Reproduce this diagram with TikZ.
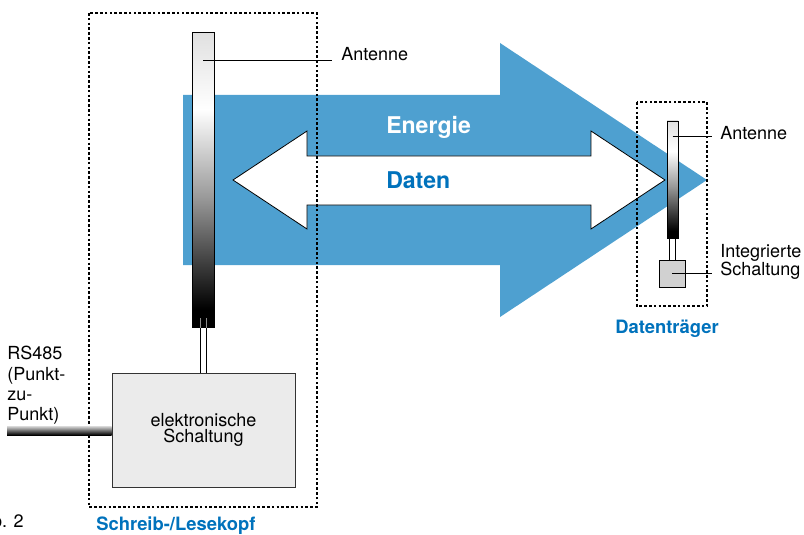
\documentclass[tikz,border=0pt]{standalone}
\usepackage{fontspec}
\setmainfont{TeX Gyre Heros}
\usepackage{xcolor}
\usepackage{tikz}
\usetikzlibrary{calc}
\definecolor{arrowblue}{RGB}{78,160,208}
\definecolor{textblue}{RGB}{0,114,188}
\pgfdeclareverticalshading{antgrad}{100bp}{color(0bp)=(black); color(28bp)=(black); color(36bp)=(black!75); color(47bp)=(black!40); color(62bp)=(white); color(75bp)=(black!12); color(100bp)=(black!12)}
\tikzset{
    dotbox/.style={line width=1.9pt, dash pattern=on 1.9pt off 1.7pt},
    antenna/.style={draw, line width=0.75pt, shade, shading=antgrad, rectangle, inner sep=0pt},
    circuit/.style={draw=black!80, line width=0.75pt, rectangle, inner sep=0pt},
    lbl/.style={font=\fontsize{13.5}{16}\selectfont, inner sep=0pt},
    blbl/.style={font=\fontsize{13.8}{17}\selectfont\bfseries, text=textblue, inner sep=0pt},
    biglbl/.style={font=\fontsize{17.3}{20}\selectfont\bfseries, inner sep=0pt},
    lead/.style={line width=0.75pt},
    wire/.style={line width=0.75pt}
}

\begin{document}
\begin{tikzpicture}[x=0.75pt,y=-0.75pt]
    \useasboundingbox (0,0) rectangle (804,535);
    \fill[arrowblue] (183,95) -- (500,95) -- (500,43) -- (707,180) -- (500,317) -- (500,265) -- (183,265) -- cycle;
    \draw[fill=white, line width=0.6pt] (233,180) -- (307,131) -- (307,156) -- (591,156) -- (591,131) -- (665,180) -- (591,229) -- (591,205) -- (307,205) -- (307,229) -- cycle;
    \node[biglbl, text=white, anchor=base west] (energie) at (386,133) {Energie};
    \node[biglbl, text=textblue, anchor=base west] (daten) at (386,189) {Daten};
    \draw[dotbox] (89,13) rectangle (317,507);
    \draw[dotbox] (637,102) rectangle (707,306);

    \node[antenna, minimum width=16.5pt, minimum height=220.5pt] (ant1) at (203,180) {};
    \node[circuit, fill=black!8, minimum width=137.25pt, minimum height=85.5pt, align=center, font=\fontsize{13.5}{12}\selectfont] (elek) at (203.5,430) {elektronische\\Schaltung};
    \draw[wire] ([xshift=-2.25pt]ant1.south) -- ([xshift=-2.25pt]ant1.south |- elek.north);
    \draw[wire] ([xshift=2.25pt]ant1.south) -- ([xshift=2.25pt]ant1.south |- elek.north);
    \draw[wire, black!45] ([xshift=-2.25pt]ant1.south) -- ++(0,-10);
    \draw[wire, black!45] ([xshift=2.25pt]ant1.south) -- ++(0,-10);
    \node[lbl, anchor=base west] (antlbl1) at (341,61) {Antenne};
    \draw[lead] (ant1.center |- antlbl1.base) -- ([xshift=-6.75pt]antlbl1.base west);

    \node[lbl, font=\fontsize{13.5}{15.3}\selectfont, align=left, anchor=north west] (rs) at (7,346) {RS485\\(Punkt-\\zu-\\Punkt)};
    \shade[top color=black!15, bottom color=black] (rs.south west |- 0,426) rectangle (elek.west |- 0,435);

    \node[antenna, line width=0.6pt, minimum width=8.25pt, minimum height=87.75pt] (ant2) at (672.5,179.5) {};
    \node[circuit, draw=black, fill=black!18, minimum width=19.5pt, minimum height=20.25pt] (ic) at (672,273.5) {};
    \draw[wire] ([xshift=-1.9pt]ant2.south) -- ([xshift=-1.9pt]ant2.south |- ic.north);
    \draw[wire] ([xshift=1.9pt]ant2.south) -- ([xshift=1.9pt]ant2.south |- ic.north);
    \node[lbl, anchor=base west] (antlbl2) at (720,140) {Antenne};
    \draw[lead] ([yshift=2.25pt]ant2.center |- antlbl2.base) -- ([xshift=-6pt, yshift=2.25pt]antlbl2.base west);
    \node[lbl, font=\fontsize{13.5}{13.5}\selectfont, align=left, anchor=north west] (iclbl) at (720,244) {Integrierte\\Schaltung};
    \draw[lead] (ic.center) -- ([xshift=-6pt]ic.center -| iclbl.west);

    \node[blbl, anchor=base] (dtr) at (667,333) {Datenträger};
    \node[blbl, anchor=base west] (kopf) at (96,530) {Schreib-/Lesekopf};
    \node[lbl, anchor=base east] (abb) at (24,527) {Abb. 2};
\end{tikzpicture}
\end{document}
